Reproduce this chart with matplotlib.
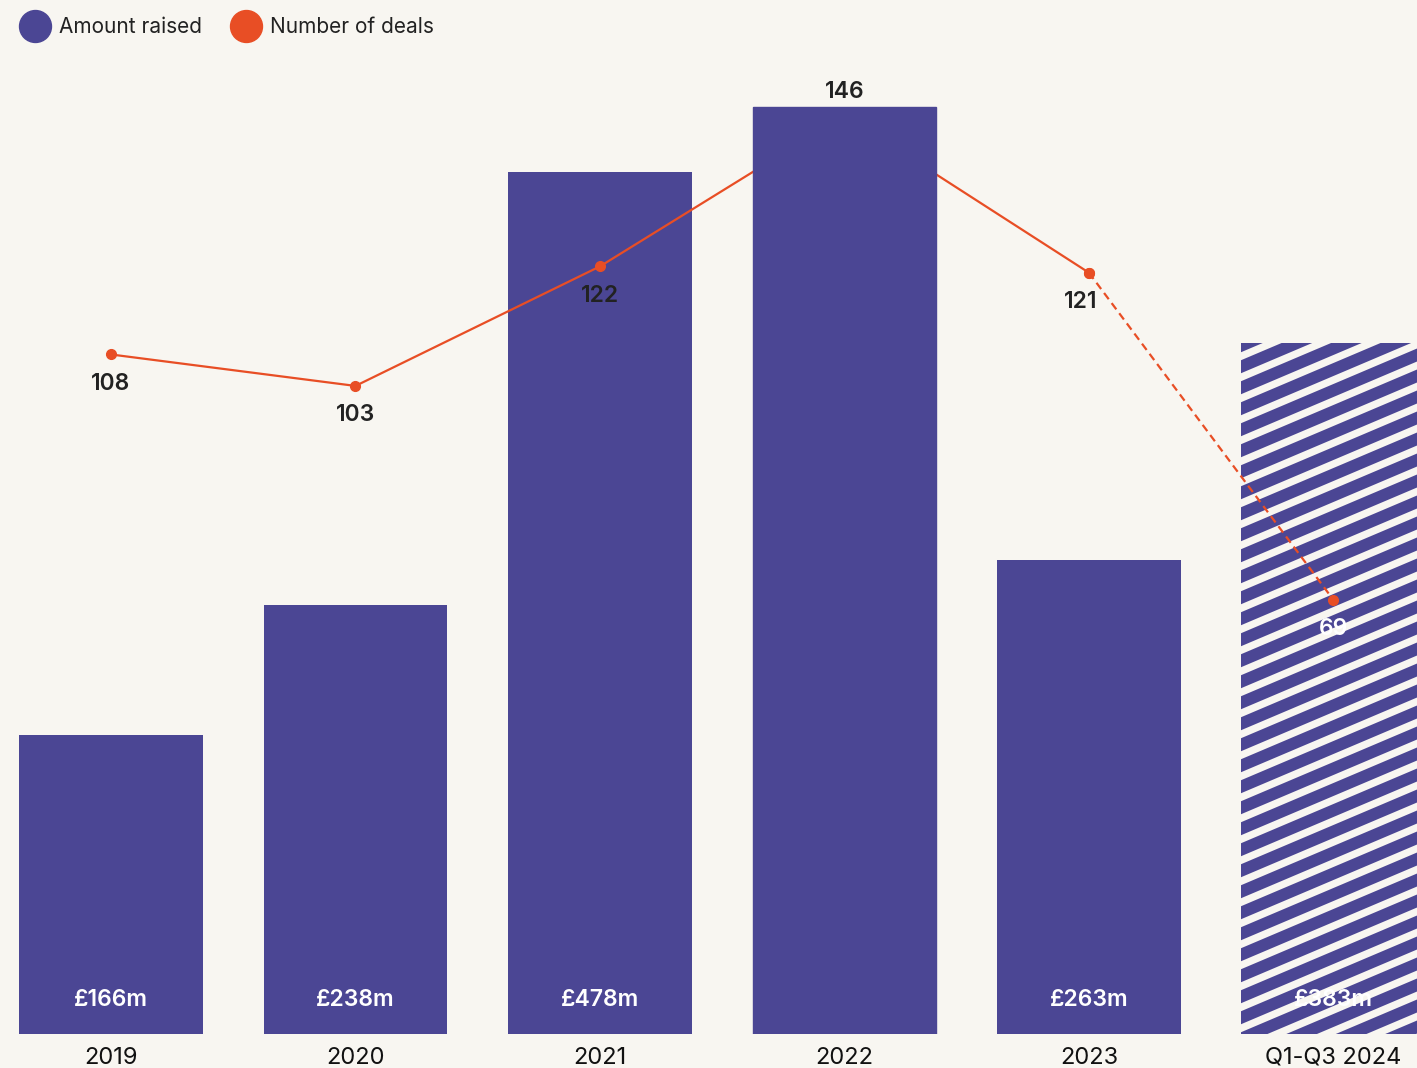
import numpy as np
import matplotlib.pyplot as plt
from matplotlib.lines import Line2D
from matplotlib.patches import Rectangle
from matplotlib.transforms import IdentityTransform

plt.rcParams['font.family'] = ['Inter', 'DejaVu Sans']

anos = ["2019", "2020", "2021", "2022", "2023", "Q1-Q3 2024"]
valores = [166, 238, 478, 514, 263, 383]
rotulos = ["£166m", "£238m", "£478m", "£514m", "£263m", "£383m"]
negocios = [108, 103, 122, 146, 121, 69]

roxo = "#4B4694"
laranja = "#E84E25"
fundo = "#F8F6F1"
texto = "#222222"

fig = plt.figure(figsize=(14.17, 10.68), dpi=100, facecolor=fundo)
ax = fig.add_axes([0, 34 / 1068, 1, 974 / 1068])
ax.set_facecolor(fundo)
x = np.arange(len(anos))

barras = ax.bar(x, valores, width=0.752, color=roxo, zorder=2)
ax.set_xlim(-0.454, 5.342)
ax.set_ylim(0, 540)
ax.set_xticks(x)
ax.set_xticklabels(anos, fontsize=17, color="#111111")
ax.tick_params(axis='x', length=0, pad=9)
ax.set_yticks([])
for s in ax.spines.values():
    s.set_visible(False)

for xi, v, r in zip(x, valores, rotulos):
    ax.annotate(r, (xi, 0), xytext=(0, 24.5), textcoords="offset points",
                ha="center", va="center", color="white", fontsize=16.5,
                fontweight="semibold", zorder=6)

# segundo eixo para o numero de negocios
ax2 = ax.twinx()
ax2.set_ylim(0, 154.8)
ax2.set_yticks([])
for s in ax2.spines.values():
    s.set_visible(False)

ax2.plot(x[:5], negocios[:5], color=laranja, lw=1.6, marker="o", ms=7, zorder=2)
ax2.plot(x[4:], negocios[4:], color=laranja, lw=1.6, ls=(0, (3.5, 2.2)),
         marker="o", ms=7, zorder=2)

# barra de 2022 por cima da linha, como no original
b = barras[3]
ax2.add_patch(Rectangle(b.get_xy(), b.get_width(), b.get_height(),
                        transform=ax.transData, color=roxo, zorder=3))

for i, (xi, n) in enumerate(zip(x, negocios)):
    dy = 17 if n == max(negocios) else -21
    dx = -6 if i == 4 else 0
    cor = "white" if i == 5 else texto
    ax2.annotate(str(n), (xi, n), xytext=(dx, dy), textcoords="offset points",
                 ha="center", va="center", fontsize=16.5, fontweight="semibold",
                 color=cor, zorder=7)

# listras da barra parcial (2024)
fig.canvas.draw()
ult = barras[5]
ext = ult.get_window_extent()
inc = np.tan(np.radians(23))
passo = 21
y0 = ext.y0 - (ext.x1 - ext.x0) * inc - passo
k = 0
while y0 + k * passo < ext.y1 + passo:
    ya = y0 + k * passo
    ln = Line2D([ext.x0, ext.x1], [ya, ya + (ext.x1 - ext.x0) * inc],
                transform=IdentityTransform(), color=fundo, lw=5.3, zorder=2.5)
    ax.add_line(ln)
    ln.set_clip_path(ult)
    k += 1

leg = fig.legend(handles=[Line2D([], [], marker="o", ls="", ms=23, color=roxo),
                          Line2D([], [], marker="o", ls="", ms=23, color=laranja)],
                 labels=["Amount raised", "Number of deals"], loc="upper left",
                 bbox_to_anchor=(-0.0005, 1.0015), ncol=2, frameon=False, fontsize=15,
                 handletextpad=0.35, columnspacing=1.33, handlelength=1.6)
for t in leg.get_texts():
    t.set_color(texto)

fig.savefig("out.png", dpi=100, facecolor=fundo)
